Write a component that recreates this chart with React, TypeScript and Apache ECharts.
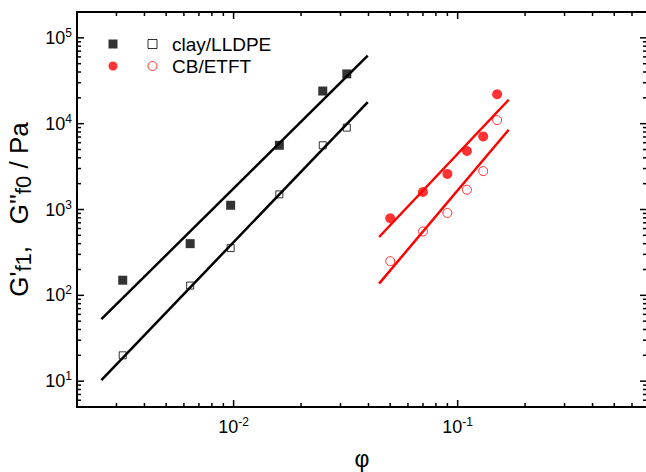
import React, { useEffect, useRef } from "react";
import * as echarts from "echarts";

// ---- data ----
const clayPhi = [0.0032, 0.0064, 0.0097, 0.016, 0.025, 0.032];
const clayGf1 = [150, 400, 1120, 5600, 24000, 38000];
const clayGf0 = [20, 130, 355, 1500, 5600, 9000];

const cbPhi = [0.05, 0.07, 0.09, 0.11, 0.13, 0.15];
const cbGf1 = [790, 1600, 2600, 4800, 7100, 22000];
const cbGf0 = [250, 555, 910, 1700, 2800, 11000];

// fitted power-law lines (end points)
const clayFitPhi = [0.00257, 0.0397];
const clayFitGf1 = [52.7, 62000];
const clayFitGf0 = [10.3, 17800];
const cbFitPhi = [0.0446, 0.169];
const cbFitGf1 = [478, 19000];
const cbFitGf0 = [137, 8500];

// axis ranges
const X_MIN = 0.002;
const X_MAX = 0.7;
const Y_MIN = 5;
const Y_MAX = 2e5;

const FONT = "'Liberation Sans', Arial, Helvetica, sans-serif";

function logTicks(min: number, max: number): [number, number][] {
  const out: [number, number][] = [];
  const d0 = Math.floor(Math.log10(min));
  const d1 = Math.ceil(Math.log10(max));
  for (let d = d0; d <= d1; d++) {
    for (let m = 1; m <= 9; m++) {
      const v = +(m * Math.pow(10, d)).toPrecision(6);
      if (v > min * 1.0001 && v < max * 0.9999) out.push([v, m === 1 ? 1 : 0]);
    }
  }
  return out;
}

const xTicks = logTicks(X_MIN, X_MAX);
const yTicks = logTicks(Y_MIN, Y_MAX);

const pairs = (xs: number[], ys: number[]) => xs.map((x, i) => [x, ys[i]]);

const powLabel = (v: number) => {
  const e = Math.log10(v);
  const r = Math.round(e);
  return Math.abs(e - r) < 1e-6 ? `{b|10}{s|${r}}` : "";
};

const labelRich = {
  b: { fontSize: 18, fontFamily: FONT, color: "#000", lineHeight: 22 },
  s: { fontSize: 12, fontFamily: FONT, color: "#000", verticalAlign: "top", lineHeight: 12 },
};

export default function App() {
  const ref = useRef<HTMLDivElement>(null);

  useEffect(() => {
    if (!ref.current) return;
    const chart = echarts.init(ref.current, undefined, { renderer: "svg" });

    const option: any = {
      animation: false,
      backgroundColor: "#fff",
      grid: {
        left: 77,
        top: 12,
        width: 570,
        height: 395,
        outerBoundsMode: "none",
        containLabel: false,
        show: true,
        borderColor: "#000",
        borderWidth: 2,
        backgroundColor: "transparent",
      },
      xAxis: {
        type: "log",
        logBase: 10,
        min: X_MIN,
        max: X_MAX,
        axisLine: { show: false },
        axisTick: { show: false },
        splitLine: { show: false },
        axisLabel: {
          showMinLabel: false,
          showMaxLabel: false,
          margin: 9,
          formatter: powLabel,
          rich: labelRich,
        },
        name: "φ",
        nameLocation: "middle",
        nameGap: 40,
        nameTextStyle: { fontSize: 23, fontFamily: FONT, color: "#000" },
      },
      yAxis: {
        type: "log",
        logBase: 10,
        min: Y_MIN,
        max: Y_MAX,
        axisLine: { show: false },
        axisTick: { show: false },
        splitLine: { show: false },
        axisLabel: {
          showMinLabel: false,
          showMaxLabel: false,
          margin: 5,
          formatter: powLabel,
          rich: labelRich,
        },
        name: "{m|G'}{u|f1}{m|,   G''}{u|f0}{m| / Pa}",
        nameLocation: "middle",
        nameGap: 41,
        nameTextStyle: {
          fontSize: 26,
          fontFamily: FONT,
          color: "#000",
          rich: {
            m: { fontSize: 26, fontFamily: FONT, color: "#000", lineHeight: 30 },
            u: { fontSize: 22, fontFamily: FONT, color: "#000", verticalAlign: "bottom", lineHeight: 18 },
          },
        },
      },
      legend: [
        {
          left: 108.5,
          top: 33,
          orient: "vertical",
          padding: 0,
          itemGap: 0,
          itemWidth: 9,
          itemHeight: 9,
          selectedMode: false,
          formatter: () => " ",
          textStyle: { fontSize: 19, lineHeight: 22, fontFamily: FONT },
          data: [
            { name: "clay/LLDPE G'f1", icon: "rect", itemStyle: { color: "#000", borderWidth: 0 } },
            { name: "CB/ETFT G'f1", icon: "circle", itemStyle: { color: "#ff0000", borderWidth: 0 } },
          ],
        },
        {
          left: 147.5,
          top: 33,
          orient: "vertical",
          padding: 0,
          itemGap: 0,
          itemWidth: 9,
          itemHeight: 9,
          selectedMode: false,
          textStyle: { fontSize: 19, lineHeight: 22, fontFamily: FONT, color: "#000", padding: [0, 0, 0, 10] },
          data: [
            { name: "clay/LLDPE", icon: "rect", itemStyle: { color: "#fff", borderColor: "#000", borderWidth: 1 } },
            { name: "CB/ETFT", icon: "circle", itemStyle: { color: "#fff", borderColor: "#ff0000", borderWidth: 1 } },
          ],
        },
      ],
      series: [
        {
          type: "line",
          name: "clay fit 1",
          data: pairs(clayFitPhi, clayFitGf1),
          showSymbol: false,
          lineStyle: { color: "#000", width: 2.5 },
          itemStyle: { color: "#000" },
        },
        {
          type: "line",
          name: "clay fit 0",
          data: pairs(clayFitPhi, clayFitGf0),
          showSymbol: false,
          lineStyle: { color: "#000", width: 2.5 },
          itemStyle: { color: "#000" },
        },
        {
          type: "line",
          name: "cb fit 1",
          data: pairs(cbFitPhi, cbFitGf1),
          showSymbol: false,
          lineStyle: { color: "#ff0000", width: 2.5 },
          itemStyle: { color: "#ff0000" },
        },
        {
          type: "line",
          name: "cb fit 0",
          data: pairs(cbFitPhi, cbFitGf0),
          showSymbol: false,
          lineStyle: { color: "#ff0000", width: 2.5 },
          itemStyle: { color: "#ff0000" },
        },
        {
          type: "scatter",
          name: "clay/LLDPE G'f1",
          data: pairs(clayPhi, clayGf1),
          symbol: "rect",
          symbolSize: 9,
          itemStyle: { color: "#000" },
        },
        {
          type: "scatter",
          name: "clay/LLDPE",
          data: pairs(clayPhi, clayGf0),
          symbol: "rect",
          symbolSize: 7,
          itemStyle: { color: "#fff", borderColor: "#000", borderWidth: 1 },
        },
        {
          type: "scatter",
          name: "CB/ETFT G'f1",
          data: pairs(cbPhi, cbGf1),
          symbol: "circle",
          symbolSize: 10,
          itemStyle: { color: "#ff0000" },
        },
        {
          type: "scatter",
          name: "CB/ETFT",
          data: pairs(cbPhi, cbGf0),
          symbol: "circle",
          symbolSize: 9,
          itemStyle: { color: "#fff", borderColor: "#ff0000", borderWidth: 1 },
        },
      ],
    };

    chart.setOption(option);

    // inward major/minor ticks on all four sides, positioned by the axes' own scales
    const conv = (finder: any, v: number) => {
      try {
        const r: any = chart.convertToPixel(finder, v as any);
        return Array.isArray(r) ? Number(r[0]) : Number(r);
      } catch (e) {
        return NaN;
      }
    };
    const px = (v: number) => conv({ xAxisIndex: 0 }, v);
    const py = (v: number) => conv({ yAxisIndex: 0 }, v);

    const W = 1.5;
    const ticks: any[] = [];
    const yb = py(Y_MIN);
    const yt = py(Y_MAX);
    const xl = px(X_MIN);
    const xr = px(X_MAX);
    const addRect = (x: number, y: number, w: number, h: number) => {
      if ([x, y, w, h].every((n) => isFinite(n))) {
        ticks.push({
          type: "rect",
          shape: { x, y, width: w, height: h },
          style: { fill: "#000" },
        });
      }
    };
    xTicks.forEach(([v, maj]) => {
      const len = maj ? 7 : 4;
      const x = px(v);
      addRect(x - W / 2, yb - len, W, len);
      addRect(x - W / 2, yt, W, len);
    });
    yTicks.forEach(([v, maj]) => {
      const len = maj ? 7 : 4;
      const y = py(v);
      addRect(xl, y - W / 2, len, W);
      addRect(xr - len, y - W / 2, len, W);
    });
    chart.setOption({ graphic: ticks });

    return () => chart.dispose();
  }, []);

  return (
    <div
      ref={ref}
      style={{ position: "absolute", left: 0, top: 0, width: 646, height: 472 }}
    />
  );
}
